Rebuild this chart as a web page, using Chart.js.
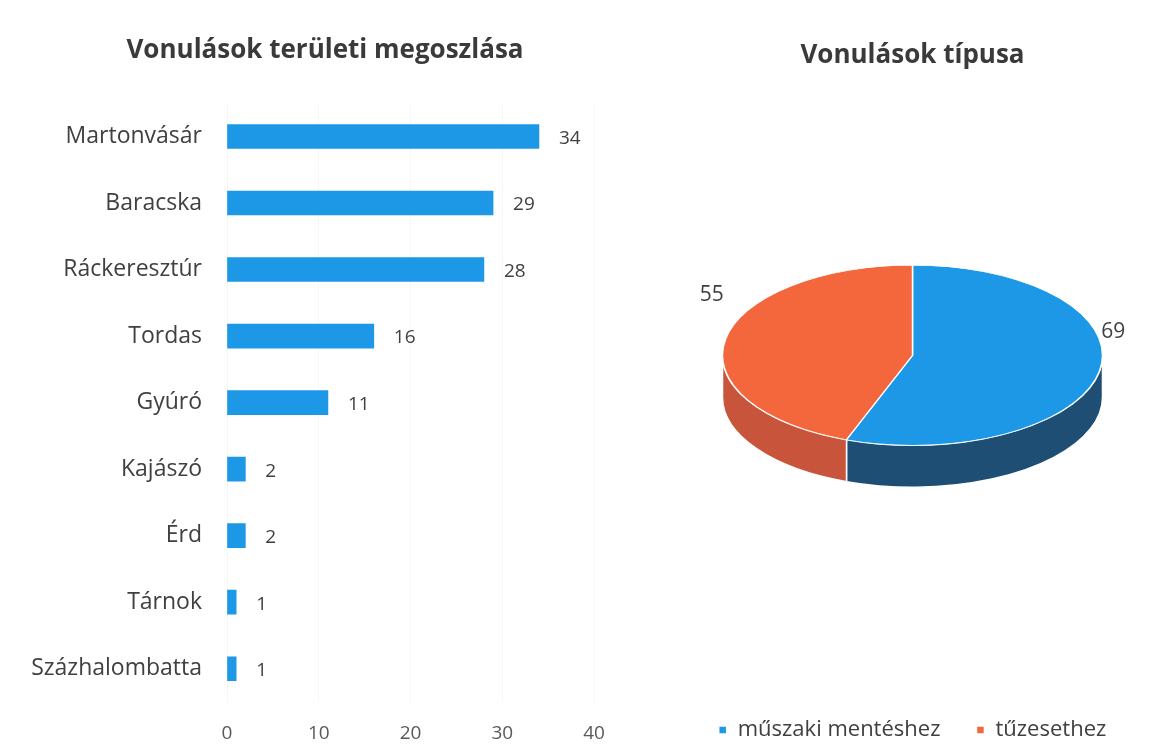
<!DOCTYPE html>
<html>
<head>
<meta charset="utf-8">
<script src="https://cdn.jsdelivr.net/npm/chart.js@4/dist/chart.umd.min.js"></script>
<style>
	html, body { margin: 0; padding: 0; background: #fff; }
	#wrap { position: relative; width: 1158px; height: 756px; }
	#bars { position: absolute; left: 0; top: 0; }
	#pie { position: absolute; left: 620px; top: 0; }
</style>
</head>
<body>
<div id="wrap">
	<canvas id="bars" width="620" height="756"></canvas>
	<canvas id="pie" width="538" height="756"></canvas>
</div>
<script>
// ------------------------------------------------------------
// Data
// ------------------------------------------------------------
const PLACES = ["Martonvásár", "Baracska", "Ráckeresztúr", "Tordas", "Gyúró", "Kajászó", "Érd", "Tárnok", "Százhalombatta"];
const PLACE_COUNTS = [34, 29, 28, 16, 11, 2, 2, 1, 1];
const X_TICKS = [0, 10, 20, 30, 40];

const TYPES = ["műszaki mentéshez", "tűzesethez"];
const TYPE_COUNTS = [69, 55];

const FONT = "'Open Sans', Lato, sans-serif";
const TEXT = "#404040";
const BLUE = "#1d98e6";
const ORANGE = "#f4663b";
const SIDE_COLORS = ["#1f4e74", "#c8543b"];

Chart.defaults.font.family = FONT;
Chart.defaults.animation = false;

// value labels at the end of the bars
const barValues = {
	id: "barValues",
	// let the long category names run into the left padding
	afterLayout(chart) {
		chart.scales.y.left = 0;
	},
	afterDatasetsDraw(chart) {
		const { ctx } = chart;
		const meta = chart.getDatasetMeta(0);
		ctx.save();
		ctx.font = "19px " + FONT;
		ctx.fillStyle = TEXT;
		ctx.textBaseline = "middle";
		meta.data.forEach((bar, i) => {
			ctx.fillText(chart.data.datasets[0].data[i], bar.x + 20, bar.y + 2);
		});
		ctx.restore();
	},
};

// flattened pie with a side wall, plus value labels
const tiltedPie = {
	id: "tiltedPie",
	beforeDatasetsDraw(chart, args, opts) {
		const { ctx, chartArea } = chart;
		const arcs = chart.getDatasetMeta(0).data;
		const { x, y, outerRadius: r } = arcs[0];
		const ry = r * opts.tilt;
		const cy = chartArea.top + ry;
		// side wall (front half only)
		ctx.save();
		arcs.forEach((arc, i) => {
			const a1 = Math.max(arc.startAngle, 0);
			const a2 = Math.min(arc.endAngle, Math.PI);
			if (a2 <= a1) return;
			ctx.beginPath();
			ctx.ellipse(x, cy, r, ry, 0, a1, a2);
			ctx.ellipse(x, cy + opts.depth, r, ry, 0, a2, a1, true);
			ctx.closePath();
			ctx.fillStyle = opts.sideColors[i];
			ctx.fill();
			ctx.strokeStyle = "#ffffff";
			ctx.lineWidth = 1.5;
			ctx.stroke();
		});
		ctx.restore();
		// squash the top face
		ctx.save();
		ctx.translate(0, cy);
		ctx.scale(1, opts.tilt);
		ctx.translate(0, -y);
	},
	afterDatasetsDraw(chart, args, opts) {
		const { ctx, chartArea } = chart;
		ctx.restore();
		const arcs = chart.getDatasetMeta(0).data;
		const { x, outerRadius: r } = arcs[0];
		const ry = r * opts.tilt;
		const cy = chartArea.top + ry;
		ctx.save();
		ctx.font = "21px " + FONT;
		ctx.fillStyle = TEXT;
		ctx.textAlign = "center";
		ctx.textBaseline = "middle";
		arcs.forEach((arc, i) => {
			const mid = (arc.startAngle + arc.endAngle) / 2;
			const lx = x + (r + 14) * Math.cos(mid);
			const ly = cy + (ry + 14) * Math.sin(mid) - opts.depth;
			ctx.fillText(chart.data.datasets[0].data[i], lx, ly);
		});
		ctx.restore();
	},
};

// ------------------------------------------------------------
// Bar chart
// ------------------------------------------------------------
new Chart(document.getElementById("bars"), {
	type: "bar",
	data: {
		labels: PLACES,
		datasets: [
			{
				data: PLACE_COUNTS,
				backgroundColor: BLUE,
				borderWidth: 0,
				barThickness: 24,
			},
		],
	},
	options: {
		responsive: false,
		indexAxis: "y",
		layout: { padding: { left: 56, right: 26, top: 0, bottom: 0 } },
		plugins: {
			legend: { display: false },
			tooltip: { enabled: false },
			title: {
				display: true,
				text: "Vonulások területi megoszlása",
				color: "#3a3a3a",
				font: { size: 26, weight: "bold" },
				padding: { top: 35, bottom: 37 },
			},
		},
		scales: {
			x: {
				min: 0,
				max: 40,
				afterBuildTicks: (scale) => {
					scale.ticks = X_TICKS.map((v) => ({ value: v }));
				},
				afterFit: (scale) => {
					scale.height = 54;
					scale.paddingRight = 0;
				},
				grid: { color: "#f7f7f7", drawTicks: false },
				border: { display: false },
				ticks: { color: "#595959", font: { size: 19 }, padding: 20 },
			},
			y: {
				afterFit: (scale) => {
					scale.width = 171;
				},
				grid: { display: false },
				border: { display: false },
				ticks: { color: TEXT, font: { size: 23 }, padding: 17 },
			},
		},
	},
	plugins: [barValues],
});

// ------------------------------------------------------------
// Pie chart
// ------------------------------------------------------------
new Chart(document.getElementById("pie"), {
	type: "pie",
	data: {
		labels: TYPES,
		datasets: [
			{
				data: TYPE_COUNTS,
				backgroundColor: [BLUE, ORANGE],
				borderColor: "#ffffff",
				borderWidth: 1.5,
				hoverOffset: 0,
				clip: false,
			},
		],
	},
	options: {
		responsive: false,
		radius: 190,
		layout: { padding: { left: 47, right: 0, top: 0, bottom: 5 } },
		plugins: {
			tooltip: { enabled: false },
			title: {
				display: true,
				text: "Vonulások típusa",
				color: "#3a3a3a",
				font: { size: 26, weight: "bold" },
				padding: { top: 40, bottom: 194 },
			},
			legend: {
				position: "bottom",
				labels: {
					color: TEXT,
					font: { size: 22 },
					usePointStyle: true,
					pointStyle: "rect",
					boxWidth: 8,
					boxHeight: 8,
					padding: 36,
				},
			},
			tiltedPie: { tilt: 0.474, depth: 42, sideColors: SIDE_COLORS },
		},
	},
	plugins: [tiltedPie],
});
</script>
</body>
</html>
